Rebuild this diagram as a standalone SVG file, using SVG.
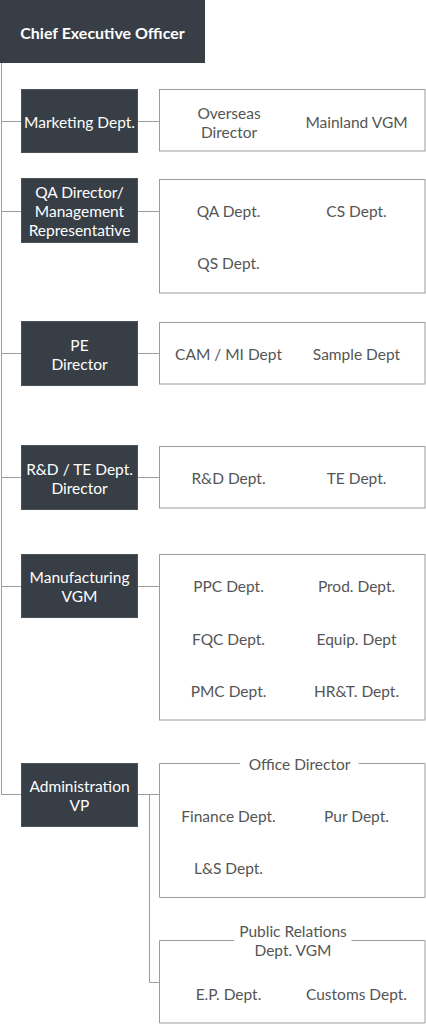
<svg xmlns="http://www.w3.org/2000/svg" width="426" height="1024" viewBox="0 0 426 1024">
<style>
.dark{fill:#373e46;stroke:#4a525a;stroke-width:1}
.box{fill:#fff;stroke:#9c9c9c;stroke-width:1}
.wt{fill:#fff;font-family:Lato,"Open Sans",sans-serif;font-size:15.5px;text-anchor:middle;dominant-baseline:central}
.gt{fill:#555;font-family:Lato,"Open Sans",sans-serif;font-size:15.5px;text-anchor:middle;dominant-baseline:central}
.ln{fill:none;stroke:#9c9c9c;stroke-width:1}
</style>
<rect width="426" height="1024" fill="#fff"/>
<g id="connectors">
<path class="ln" d="M1.5 63V794.5H21M1.5 121.5H21M138 121.5H160M1.5 211.5H21M138 211.5H160M1.5 353.5H21M138 353.5H160M1.5 477.5H21M138 477.5H160M1.5 586.5H21M138 586.5H160M138 794.5H160M149.5 794.5V982.5H160"/>
</g>
<g id="ceo">
<rect x="0" y="0" width="205" height="63" fill="#373e46"/>
<text class="wt" x="102.5" y="32.5" style="font-weight:bold;font-size:16px">Chief Executive Officer</text>
</g>
<g id="marketing">
<rect class="dark" x="21.5" y="89.5" width="116" height="63"/>
<text class="wt" x="79.5" y="121.5">Marketing Dept.</text>
</g>
<g id="marketing-sub">
<rect class="box" x="159.5" y="89.5" width="265.5" height="61.5"/>
<text class="gt" x="229" y="112.5">Overseas</text>
<text class="gt" x="229" y="131.5">Director</text>
<text class="gt" x="356.5" y="121.5">Mainland VGM</text>
</g>
<g id="qa">
<rect class="dark" x="21.5" y="178.5" width="116" height="64"/>
<text class="wt" x="79.5" y="192">QA Director/</text>
<text class="wt" x="79.5" y="211">Management</text>
<text class="wt" x="79.5" y="230">Representative</text>
</g>
<g id="qa-sub">
<rect class="box" x="159.5" y="179.5" width="265.5" height="113.5"/>
<text class="gt" x="228.5" y="210.5">QA Dept.</text>
<text class="gt" x="356.5" y="210.5">CS Dept.</text>
<text class="gt" x="228.5" y="262.5">QS Dept.</text>
</g>
<g id="pe">
<rect class="dark" x="21.5" y="321.5" width="116" height="64"/>
<text class="wt" x="79.5" y="344.5">PE</text>
<text class="wt" x="79.5" y="363.5">Director</text>
</g>
<g id="pe-sub">
<rect class="box" x="159.5" y="322.5" width="265.5" height="61.5"/>
<text class="gt" x="228.5" y="353.5">CAM / MI Dept</text>
<text class="gt" x="356.5" y="353.5">Sample Dept</text>
</g>
<g id="rd">
<rect class="dark" x="21.5" y="445.5" width="116" height="64"/>
<text class="wt" x="79.5" y="468.5">R&amp;D / TE Dept.</text>
<text class="wt" x="79.5" y="487.5">Director</text>
</g>
<g id="rd-sub">
<rect class="box" x="159.5" y="446.5" width="265.5" height="61.5"/>
<text class="gt" x="228.5" y="477.5">R&amp;D Dept.</text>
<text class="gt" x="356.5" y="477.5">TE Dept.</text>
</g>
<g id="mfg">
<rect class="dark" x="21.5" y="554.5" width="116" height="63"/>
<text class="wt" x="79.5" y="577">Manufacturing</text>
<text class="wt" x="79.5" y="596">VGM</text>
</g>
<g id="mfg-sub">
<rect class="box" x="159.5" y="554.5" width="265.5" height="165.5"/>
<text class="gt" x="228.5" y="586">PPC Dept.</text>
<text class="gt" x="356.5" y="586">Prod. Dept.</text>
<text class="gt" x="228.5" y="638.5">FQC Dept.</text>
<text class="gt" x="356.5" y="638.5">Equip. Dept</text>
<text class="gt" x="228.5" y="691">PMC Dept.</text>
<text class="gt" x="356.5" y="691">HR&amp;T. Dept.</text>
</g>
<g id="admin">
<rect class="dark" x="21.5" y="763.5" width="116" height="63"/>
<text class="wt" x="79.5" y="785.5">Administration</text>
<text class="wt" x="79.5" y="804.5">VP</text>
</g>
<g id="office">
<path class="ln" d="M240 763.5H159.5V897.5H425V763.5H358.5"/>
<text class="gt" x="299.5" y="763.5">Office Director</text>
<text class="gt" x="228.5" y="815.5">Finance Dept.</text>
<text class="gt" x="356.5" y="815.5">Pur Dept.</text>
<text class="gt" x="228.5" y="868">L&amp;S Dept.</text>
</g>
<g id="pr">
<path class="ln" d="M234 940.5H159.5V1023H425V940.5H351.5"/>
<text class="gt" x="293" y="931">Public Relations</text>
<text class="gt" x="293" y="950">Dept. VGM</text>
<text class="gt" x="228.5" y="993.5">E.P. Dept.</text>
<text class="gt" x="356.5" y="993.5">Customs Dept.</text>
</g>
</svg>
